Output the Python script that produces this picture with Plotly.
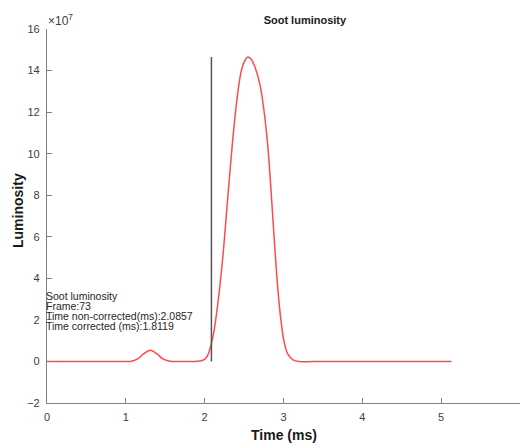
import plotly.graph_objects as go

# Time (ms) and luminosity (x1e7)
time_ms = [0.0, 0.5, 1.0, 1.07, 1.15, 1.22, 1.31, 1.40, 1.47, 1.56, 1.7, 1.85, 1.94,
           2.0, 2.04, 2.08, 2.12, 2.177, 2.232, 2.287, 2.338, 2.40, 2.46, 2.506,
           2.548, 2.59, 2.64, 2.70, 2.75, 2.80, 2.844, 2.886, 2.93, 2.97, 3.01, 3.055,
           3.12, 3.2, 3.5, 4.0, 4.5, 5.13]
luminosity = [0.0, 0.0, 0.0, 0.01, 0.12, 0.35, 0.54, 0.35, 0.12, 0.01, 0.0, 0.0, 0.02,
              0.1, 0.3, 0.8, 1.5, 3.1, 5.1, 7.6, 9.9, 12.3, 13.9, 14.45,
              14.65, 14.55, 14.15, 13.35, 12.15, 10.4, 8.1, 5.7, 3.4, 1.9, 0.9, 0.35,
              0.08, 0.0, 0.0, 0.0, 0.0, 0.0]

frame_time = 2.0857
info_lines = ["Soot luminosity", "Frame:73", "Time non-corrected(ms):2.0857",
              "Time corrected (ms):1.8119"]
info_y = [3.17, 2.68, 2.19, 1.70]

x_ticks = [0, 1, 2, 3, 4, 5]
y_ticks = [-2, 0, 2, 4, 6, 8, 10, 12, 14, 16]

FONT = "Liberation Sans, Arial, Helvetica, sans-serif"
AX = "#808080"
TXT = "#404040"

fig = go.Figure()
fig.add_trace(go.Scatter(x=time_ms, y=luminosity, mode="lines",
                         line=dict(color="#ff4a4a", width=1.5, shape="spline", smoothing=1.0),
                         hoverinfo="skip", showlegend=False))
fig.add_trace(go.Scatter(x=[frame_time, frame_time], y=[0, max(luminosity)], mode="lines",
                         line=dict(color="#555555", width=1.5),
                         hoverinfo="skip", showlegend=False))

annotations = []
for txt, yy in zip(info_lines, info_y):
    annotations.append(dict(x=0, y=yy, xref="x", yref="y", text=txt, showarrow=False,
                            xanchor="left", yanchor="middle", xshift=-2,
                            borderpad=0,
                            font=dict(family=FONT, size=10.5, color="#262626")))
annotations.append(dict(x=0, y=1, xref="paper", yref="paper", text="×10<sup>7</sup>",
                        showarrow=False, xanchor="left", yanchor="bottom", xshift=-1, yshift=-1,
                        font=dict(family=FONT, size=12, color=TXT)))
annotations.append(dict(x=0, y=0.5, xref="paper", yref="paper", text="<b>Luminosity</b>",
                        showarrow=False, textangle=-90, xanchor="center", yanchor="middle",
                        xshift=-29, yshift=5,
                        font=dict(family=FONT, size=14, color="#1a1a1a")))
annotations.append(dict(x=0.5, y=0, xref="paper", yref="paper", text="<b>Time (ms)</b>",
                        showarrow=False, xanchor="center", yanchor="middle",
                        yshift=-32,
                        font=dict(family=FONT, size=14, color="#1a1a1a")))

fig.update_layout(
    width=520, height=443,
    margin=dict(l=47, r=0, t=29, b=40),
    paper_bgcolor="white", plot_bgcolor="white",
    font=dict(family=FONT, size=11, color=TXT),
    title=dict(text="<b>Soot luminosity</b>", x=283.5/520, xanchor="center",
               y=1-20/443, yanchor="middle", xref="paper", yref="container",
               font=dict(family=FONT, size=11, color="#1a1a1a")),
    annotations=annotations,
    showlegend=False,
)
fig.update_xaxes(range=[0, 6], tickvals=x_ticks, ticks="inside", ticklen=5,
                 tickcolor=AX, showline=True, linecolor=AX, linewidth=1.2,
                 showgrid=False, zeroline=False, mirror=False, ticklabelstandoff=4,
                 tickfont=dict(family=FONT, size=11, color=TXT))
fig.update_yaxes(range=[-2, 16], tickvals=y_ticks, ticks="inside", ticklen=5,
                 tickcolor=AX, showline=True, linecolor=AX, linewidth=1.2,
                 showgrid=False, zeroline=False, mirror=False, ticklabelstandoff=4,
                 tickfont=dict(family=FONT, size=11, color=TXT))

fig.write_html("out.html")
